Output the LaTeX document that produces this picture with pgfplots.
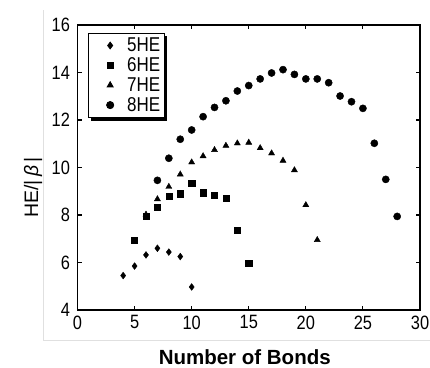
\documentclass[border=0pt]{standalone}
\usepackage{fontspec}
\setmainfont{Liberation Sans}
\newfontfamily\narrowfont[FakeStretch=0.85]{Liberation Sans}
\usepackage{pgfplots}
\pgfplotsset{compat=1.18}
\begin{document}
\begin{tikzpicture}
\begin{axis}[
  name=ax,
  scale only axis,
  width=342.5pt, height=285pt,
  xmin=0, xmax=30, ymin=4, ymax=16,
  xtick={0,5,...,30}, ytick={4,6,...,16},
  tick align=inside,
  major tick length=4.5pt,
  axis line style={line width=1.1pt},
  every tick/.style={black, line width=1.1pt},
  /pgf/number format/assume math mode=true,
  tick label style={font=\narrowfont\fontsize{19.3}{19.3}\selectfont},
  xticklabel style={yshift=-2pt},
  yticklabel style={xshift=-4pt},
  xlabel={Number of Bonds},
  ylabel={HE/|\,\textit{β}\,|},
  xlabel style={font=\bfseries\fontsize{20.5}{20.5}\selectfont, at={(rel axis cs:0.5,0)}, anchor=base, yshift=-54pt, xshift=-4pt},
  ylabel style={font=\fontsize{19.5}{19.5}\selectfont, at={(rel axis cs:-0.1153,0.43)}, anchor=base},
  legend cell align=left,
  legend style={name=leg, at={(rel axis cs:0.030,0.972)}, anchor=north west,
    draw=black, line width=0.8pt, fill=white,
    font=\narrowfont\fontsize{20}{20}\selectfont,
    row sep=0.5pt, inner xsep=2pt, inner ysep=2.5pt,
    /tikz/every odd column/.style={column sep=0pt}},
  legend image code/.code={\path[draw=none,fill=none] (0pt,-3pt) rectangle (35pt,3pt); \draw[#1] plot coordinates {(20pt,0pt)};},
]
\addplot[only marks, mark=diamond*, mark size=3.4pt, black] coordinates {
(4,5.45) (5,5.85) (6,6.32) (7,6.60) (8,6.44) (9,6.25) (10,4.97)};
\addlegendentry{5HE}
\addplot[only marks, mark=square*, mark size=3.1pt, black] coordinates {
(5,6.95) (6,7.96) (7,8.34) (8,8.79) (9,8.90) (10,9.35) (11,8.94) (12,8.83) (13,8.70) (14,7.36) (15,5.97)};
\addlegendentry{6HE}
\addplot[only marks, mark=triangle*, mark size=3.5pt, black] coordinates {
(6,8.02) (7,8.67) (8,9.19) (9,9.71) (10,10.22) (11,10.48) (12,10.74) (13,10.92) (14,11.02) (15,11.05) (16,10.82) (17,10.60) (18,10.29) (19,9.89) (20,8.42) (21,6.95)};
\addlegendentry{7HE}
\addplot[only marks, mark=*, mark size=3.6pt, black] coordinates {
(7,9.46) (8,10.39) (9,11.19) (10,11.58) (11,12.14) (12,12.53) (13,12.81) (14,13.22) (15,13.45) (16,13.73) (17,13.98) (18,14.12) (19,13.92) (20,13.73) (21,13.73) (22,13.57) (23,13.01) (24,12.77) (25,12.49) (26,11.02) (27,9.50) (28,7.94)};
\addlegendentry{8HE}
\end{axis}
\fill[black] ([xshift=0.4pt,yshift=0.4pt]leg.south east) rectangle ([xshift=2.8pt,yshift=-2.8pt]leg.north east);
\fill[black] ([xshift=2.8pt,yshift=0.4pt]leg.south west) rectangle ([xshift=2.8pt,yshift=-2.8pt]leg.south east);
\draw[black!12, line width=0.6pt] ([xshift=-34.5pt,yshift=300pt]ax.south west) -- ([xshift=-34.5pt,yshift=-30pt]ax.south west) -- ([xshift=10pt,yshift=-30pt]ax.south east);
\pgfresetboundingbox
\path ([xshift=-77.5pt,yshift=-57pt]ax.south west) rectangle ([xshift=10pt,yshift=25pt]ax.north east);
\end{tikzpicture}
\end{document}
